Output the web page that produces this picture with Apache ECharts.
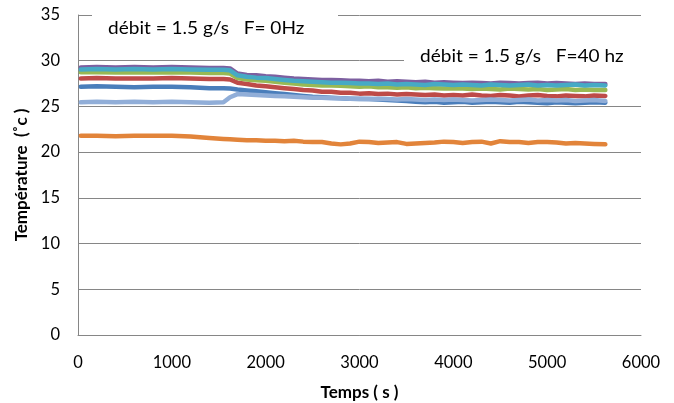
<!DOCTYPE html>
<html><head><meta charset="utf-8">
<script src="https://cdn.jsdelivr.net/npm/echarts@6/dist/echarts.min.js"></script>
<style>html,body{margin:0;padding:0;background:#fff}#c{width:674px;height:403px}</style>
</head><body><div id="c"></div>
<script>
const timeS = [30,200,400,600,800,1000,1200,1400,1550,1620,1700,1800,1900,2000,2100,2200,2300,2400,2500,2600,2700,2800,2900,3000,3100,3200,3300,3400,3500,3600,3700,3800,3900,4000,4100,4200,4300,4400,4500,4600,4700,4800,4900,5000,5100,5200,5300,5400,5500,5620];
const blue = [27.15,27.2,27.15,27.1,27.15,27.15,27.1,27.0,27.0,26.95,26.85,26.75,26.65,26.55,26.45,26.35,26.25,26.15,26.05,26.0,25.95,25.9,25.85,25.8,25.8,25.75,25.7,25.65,25.6,25.5,25.45,25.5,25.4,25.45,25.5,25.4,25.45,25.5,25.45,25.4,25.5,25.45,25.4,25.35,25.45,25.4,25.35,25.4,25.45,25.4];
const red = [28.05,28.1,28.05,28.05,28.05,28.1,28.05,28.0,28.0,27.95,27.6,27.45,27.3,27.2,27.1,27.0,26.9,26.8,26.75,26.6,26.6,26.5,26.5,26.4,26.45,26.35,26.4,26.3,26.35,26.3,26.25,26.3,26.2,26.25,26.2,26.3,26.2,26.15,26.25,26.2,26.1,26.2,26.25,26.15,26.1,26.2,26.15,26.1,26.2,26.15];
const green = [28.75,28.75,28.7,28.75,28.7,28.7,28.7,28.65,28.65,28.6,28.1,27.95,27.85,27.8,27.7,27.6,27.5,27.4,27.35,27.3,27.3,27.25,27.2,27.15,27.2,27.1,27.1,27.05,27.1,27.0,27.05,27.0,26.95,27.0,26.95,26.9,26.95,26.9,26.85,26.95,26.9,26.85,26.9,26.8,26.85,26.9,26.8,26.85,26.8,26.8];
const purple = [29.25,29.3,29.25,29.3,29.25,29.3,29.25,29.2,29.2,29.15,28.6,28.45,28.4,28.3,28.25,28.15,28.05,28.0,27.95,27.9,27.9,27.85,27.8,27.8,27.75,27.8,27.7,27.75,27.7,27.65,27.7,27.6,27.65,27.6,27.55,27.6,27.55,27.5,27.6,27.55,27.5,27.55,27.6,27.5,27.55,27.5,27.45,27.5,27.45,27.45];
const teal = [29.05,29.1,29.05,29.1,29.05,29.1,29.05,29.0,29.0,28.95,28.4,28.25,28.15,28.1,28.0,27.9,27.8,27.75,27.7,27.65,27.6,27.6,27.55,27.5,27.5,27.45,27.5,27.4,27.45,27.4,27.35,27.45,27.4,27.35,27.4,27.35,27.3,27.4,27.35,27.3,27.35,27.4,27.3,27.35,27.3,27.35,27.4,27.3,27.35,27.3];
const orange = [21.8,21.8,21.75,21.8,21.8,21.8,21.7,21.55,21.45,21.4,21.35,21.3,21.3,21.25,21.25,21.2,21.25,21.15,21.1,21.1,20.95,20.85,20.95,21.15,21.1,21.0,21.05,21.1,20.9,20.95,21.0,21.05,21.15,21.1,21.0,21.1,21.15,20.95,21.2,21.1,21.1,21.0,21.1,21.1,21.05,20.95,21.0,20.95,20.9,20.85];
const lightBlue = [25.45,25.5,25.45,25.5,25.45,25.5,25.45,25.4,25.45,26.0,26.35,26.3,26.25,26.2,26.15,26.1,26.05,26.0,25.95,25.95,25.9,25.9,25.85,25.85,25.8,25.85,25.8,25.75,25.8,25.75,25.7,25.75,25.7,25.75,25.7,25.65,25.7,25.75,25.7,25.65,25.7,25.75,25.65,25.7,25.65,25.7,25.6,25.65,25.7,25.6];
const yTicks = [0,5,10,15,20,25,30,35];
const xTicks = [0,1000,2000,3000,4000,5000,6000];
const note1 = 'débit = 1.5 g/s   F= 0Hz';
const note2 = 'débit = 1.5 g/s   F=40 hz';
const xTitle = 'Temps ( s )';
const yTitle = 'Température  (˚c )';

const seriesDefs = [
  ['S1', blue, '#4A7EBB'],
  ['S2', red, '#BE4B48'],
  ['S3', green, '#98B954'],
  ['S4', purple, '#7D5FA0'],
  ['S5', teal, '#46AAC5'],
  ['S6', orange, '#E2843A'],
  ['S7', lightBlue, '#91AED8']
];
const font = 'Lato, "Liberation Sans", sans-serif';
const chart = echarts.init(document.getElementById('c'));
chart.setOption({
  animation: false,
  grid: {left: 78, right: 33, top: 15, bottom: 68, containLabel: false, outerBoundsMode: 'none'},
  xAxis: {
    type: 'value', min: xTicks[0], max: xTicks[xTicks.length-1], interval: 1000,
    name: xTitle, nameLocation: 'middle', nameGap: 49,
    nameTextStyle: {fontFamily: font, fontSize: 17, fontWeight: 'bold', color: '#000'},
    axisLine: {show: true, lineStyle: {color: '#868686'}},
    axisTick: {show: false},
    splitLine: {show: false},
    axisLabel: {fontFamily: font, fontSize: 16.5, color: '#000', margin: 19, formatter: v => String(v)}
  },
  yAxis: {
    type: 'value', min: yTicks[0], max: yTicks[yTicks.length-1], interval: 5,
    name: yTitle, nameLocation: 'middle', nameGap: 48,
    nameTextStyle: {fontFamily: font, fontSize: 17, fontWeight: 'bold', color: '#000'},
    axisLine: {show: true, lineStyle: {color: '#868686'}},
    axisTick: {show: false},
    splitLine: {show: true, lineStyle: {color: '#868686'}},
    axisLabel: {fontFamily: font, fontSize: 16.5, color: '#000', margin: 18, formatter: v => String(v)}
  },
  series: seriesDefs.map(([n, arr, col]) => ({
    name: n, type: 'line', showSymbol: false, symbol: 'none',
    data: timeS.map((t, i) => [t, arr[i]]),
    lineStyle: {width: 4.5, color: col, cap: 'round', join: 'round'},
    itemStyle: {color: col}
  })),
  graphic: [
    {type: 'rect', shape: {x: 92, y: 6, width: 246, height: 42}, style: {fill: '#fff'}, z: 100},
    {type: 'text', x: 108, y: 29, scaleX: 1.12, style: {text: note1, font: '17px ' + font, fill: '#000', verticalAlign: 'middle'}, z: 101},
    {type: 'rect', shape: {x: 404, y: 38, width: 270, height: 34}, style: {fill: '#fff'}, z: 100},
    {type: 'text', x: 420, y: 57, scaleX: 1.12, style: {text: note2, font: '17px ' + font, fill: '#000', verticalAlign: 'middle'}, z: 101}
  ]
});
</script>
</body></html>
